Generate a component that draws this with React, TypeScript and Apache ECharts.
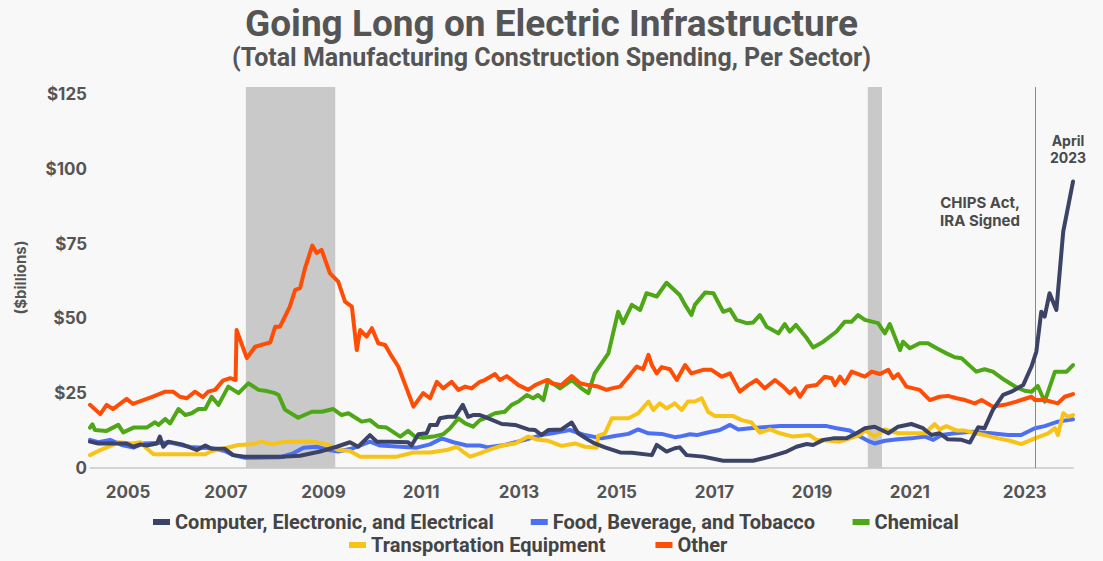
import React, { useEffect, useRef } from "react";
import * as echarts from "echarts";

// x values are positions on the chart's year scale (decimal years), y values in $billions
const seriesNames = [
  "Computer, Electronic, and Electrical",
  "Food, Beverage, and Tobacco",
  "Chemical",
  "Transportation Equipment",
  "Other",
];

const computerData: [number, number][] = [
  [2004.22, 8.8], [2004.39, 8.2], [2004.67, 8.2], [2004.97, 8.2], [2005.11, 7.1], [2005.25, 7.9],
  [2005.38, 7.5], [2005.59, 8.2], [2005.65, 10.5], [2005.72, 7.1], [2005.82, 8.8], [2006.1, 7.9],
  [2006.23, 7.1], [2006.41, 6.0], [2006.58, 7.5], [2006.71, 6.4], [2006.98, 6.4], [2007.15, 4.3],
  [2007.39, 3.8], [2008.21, 3.8], [2008.52, 4.1], [2008.93, 5.5], [2009.27, 7.1], [2009.54, 8.6],
  [2009.71, 7.1], [2009.95, 11.0], [2010.09, 8.8], [2010.36, 8.8], [2010.73, 8.6], [2010.8, 7.5],
  [2010.94, 11.3], [2011.11, 11.6], [2011.18, 14.4], [2011.32, 14.4], [2011.38, 16.6], [2011.55, 17.1],
  [2011.69, 17.1], [2011.85, 21.1], [2011.96, 17.1], [2012.06, 17.7], [2012.2, 17.7], [2012.3, 17.1],
  [2012.65, 14.7], [2012.92, 14.4], [2013.19, 12.9], [2013.33, 12.7], [2013.46, 11.0], [2013.6, 12.7],
  [2013.87, 12.9], [2014.08, 15.2], [2014.21, 11.6], [2014.42, 9.4], [2014.55, 8.2], [2014.76, 6.9],
  [2015.07, 5.2], [2015.31, 5.1], [2015.72, 4.3], [2015.82, 7.7], [2016.02, 5.5], [2016.19, 6.6],
  [2016.29, 6.9], [2016.43, 4.3], [2016.77, 3.8], [2017.18, 2.4], [2017.79, 2.4], [2018.14, 3.8],
  [2018.48, 5.5], [2018.68, 7.1], [2018.89, 8.0], [2019.02, 7.7], [2019.23, 9.4], [2019.43, 9.9],
  [2019.7, 9.9], [2019.91, 11.6], [2020.08, 13.3], [2020.28, 13.8], [2020.56, 11.6], [2020.76, 13.8],
  [2021.03, 14.7], [2021.27, 13.3], [2021.44, 11.0], [2021.61, 11.6], [2021.78, 9.6], [2022.06, 9.4],
  [2022.23, 8.5], [2022.4, 13.6], [2022.53, 13.3], [2022.7, 19.4], [2022.91, 24.4], [2023.08, 25.5],
  [2023.32, 27.7], [2023.49, 33.9], [2023.59, 38.9], [2023.69, 52.2], [2023.76, 50.6], [2023.86, 58.4],
  [2024.0, 52.8], [2024.14, 79.0], [2024.34, 95.7],
];

const foodData: [number, number][] = [
  [2004.22, 9.4], [2004.39, 8.6], [2004.63, 9.4], [2004.87, 7.7], [2005.11, 6.8], [2005.31, 8.2],
  [2005.86, 8.5], [2006.27, 7.0], [2006.71, 6.6], [2006.98, 5.7], [2007.15, 4.3], [2007.39, 3.4],
  [2008.11, 3.6], [2008.38, 4.9], [2008.59, 6.8], [2008.86, 7.1], [2009.1, 6.0], [2009.3, 5.5],
  [2009.61, 6.6], [2009.95, 8.8], [2010.16, 7.5], [2010.57, 7.1], [2010.91, 6.8], [2011.18, 7.9],
  [2011.42, 9.9], [2011.66, 8.6], [2011.93, 7.5], [2012.2, 7.5], [2012.37, 6.9], [2012.71, 7.7],
  [2013.12, 9.4], [2013.46, 11.0], [2013.74, 11.8], [2014.04, 12.7], [2014.35, 11.0], [2014.69, 9.9],
  [2014.96, 10.7], [2015.24, 11.4], [2015.44, 12.9], [2015.65, 11.6], [2015.92, 11.4], [2016.19, 10.3],
  [2016.29, 10.5], [2016.5, 11.3], [2016.64, 11.0], [2016.84, 11.8], [2017.11, 12.7], [2017.32, 14.4],
  [2017.49, 12.9], [2017.73, 13.3], [2018.0, 13.6], [2018.34, 14.0], [2019.3, 14.0], [2019.5, 13.3],
  [2019.77, 12.5], [2019.98, 10.5], [2020.18, 8.8], [2020.28, 8.2], [2020.49, 9.1], [2020.76, 9.6],
  [2021.03, 9.9], [2021.31, 10.5], [2021.48, 9.4], [2021.65, 11.0], [2021.92, 11.6], [2022.26, 12.1],
  [2022.67, 11.6], [2023.01, 11.0], [2023.28, 11.0], [2023.56, 13.3], [2023.76, 14.0], [2024.03, 15.5],
  [2024.34, 16.3],
];

const chemicalData: [number, number][] = [
  [2004.22, 13.5], [2004.27, 14.6], [2004.32, 12.7], [2004.56, 12.4], [2004.8, 14.4], [2004.9, 11.9],
  [2005.11, 13.5], [2005.38, 13.5], [2005.55, 15.3], [2005.62, 14.4], [2005.76, 16.4], [2005.86, 14.9],
  [2006.03, 19.7], [2006.17, 17.7], [2006.3, 18.3], [2006.44, 19.7], [2006.58, 19.7], [2006.71, 23.8],
  [2006.85, 21.1], [2007.05, 27.2], [2007.26, 25.0], [2007.46, 28.3], [2007.67, 26.1], [2007.84, 25.7],
  [2008.01, 25.0], [2008.08, 24.4], [2008.21, 19.5], [2008.48, 16.8], [2008.76, 18.8], [2008.96, 18.8],
  [2009.2, 19.7], [2009.37, 17.7], [2009.51, 18.3], [2009.78, 15.5], [2009.95, 16.0], [2010.12, 13.8],
  [2010.29, 13.5], [2010.57, 10.5], [2010.73, 12.4], [2010.87, 10.5], [2011.04, 10.1], [2011.25, 10.5],
  [2011.45, 11.3], [2011.59, 13.3], [2011.76, 16.6], [2011.9, 14.9], [2012.06, 13.8], [2012.2, 16.0],
  [2012.3, 16.6], [2012.51, 18.3], [2012.71, 18.8], [2012.85, 21.1], [2012.99, 22.2], [2013.16, 24.4],
  [2013.29, 23.3], [2013.39, 24.4], [2013.5, 22.7], [2013.6, 29.4], [2013.84, 26.6], [2014.08, 29.4],
  [2014.28, 26.6], [2014.42, 25.0], [2014.55, 31.6], [2014.83, 38.3], [2015.03, 52.2], [2015.13, 48.4],
  [2015.31, 54.5], [2015.48, 52.8], [2015.61, 58.4], [2015.82, 57.3], [2016.02, 61.9], [2016.29, 57.8],
  [2016.4, 54.5], [2016.53, 51.1], [2016.6, 54.5], [2016.81, 58.6], [2016.98, 58.4], [2017.18, 52.2],
  [2017.32, 53.0], [2017.45, 49.5], [2017.66, 48.4], [2017.79, 48.6], [2017.93, 51.1], [2018.07, 47.2],
  [2018.31, 45.0], [2018.44, 48.1], [2018.54, 45.6], [2018.67, 47.8], [2018.89, 43.4], [2019.02, 40.3],
  [2019.23, 42.2], [2019.5, 45.6], [2019.67, 48.9], [2019.81, 48.9], [2019.94, 51.1], [2020.08, 49.5],
  [2020.35, 48.4], [2020.49, 45.0], [2020.59, 48.1], [2020.8, 39.4], [2020.86, 42.2], [2021.0, 40.0],
  [2021.2, 41.7], [2021.37, 41.7], [2021.55, 40.0], [2021.75, 38.3], [2021.92, 37.0], [2022.06, 36.7],
  [2022.36, 32.2], [2022.53, 33.0], [2022.7, 32.2], [2022.94, 29.4], [2023.18, 27.0], [2023.35, 25.8],
  [2023.49, 25.5], [2023.62, 27.4], [2023.76, 22.2], [2023.97, 32.2], [2024.21, 32.2], [2024.34, 34.4],
];

const transportationData: [number, number][] = [
  [2004.22, 4.3], [2004.39, 5.7], [2004.6, 7.1], [2004.8, 8.6], [2005.08, 8.2], [2005.25, 8.6],
  [2005.38, 6.6], [2005.52, 4.6], [2006.58, 4.6], [2006.71, 5.7], [2006.98, 6.6], [2007.26, 7.7],
  [2007.53, 7.9], [2007.74, 8.8], [2007.94, 7.9], [2008.21, 8.8], [2008.79, 8.8], [2009.07, 7.9],
  [2009.3, 6.0], [2009.54, 5.7], [2009.75, 3.8], [2010.5, 3.8], [2010.84, 5.2], [2011.18, 5.2],
  [2011.52, 6.0], [2011.73, 7.1], [2011.85, 5.5], [2012.0, 3.8], [2012.2, 4.9], [2012.37, 6.0],
  [2012.65, 7.5], [2012.92, 8.2], [2013.19, 10.5], [2013.39, 9.4], [2013.6, 9.1], [2013.87, 7.4],
  [2014.15, 8.2], [2014.35, 7.1], [2014.59, 6.8], [2014.62, 10.7], [2014.76, 11.6], [2014.9, 16.6],
  [2015.24, 16.6], [2015.44, 18.3], [2015.65, 22.2], [2015.75, 19.4], [2015.88, 21.6], [2016.02, 19.9],
  [2016.19, 21.6], [2016.33, 19.4], [2016.46, 22.2], [2016.6, 22.2], [2016.74, 23.3], [2016.87, 18.8],
  [2017.01, 17.4], [2017.38, 17.4], [2017.56, 16.0], [2017.76, 15.2], [2017.93, 11.8], [2018.14, 12.9],
  [2018.34, 11.6], [2018.61, 10.5], [2018.95, 11.0], [2019.09, 9.4], [2019.36, 9.1], [2019.57, 8.8],
  [2019.77, 9.9], [2019.98, 11.0], [2020.08, 12.7], [2020.28, 10.5], [2020.49, 12.9], [2020.76, 11.6],
  [2021.31, 11.6], [2021.51, 14.7], [2021.61, 12.9], [2021.75, 14.0], [2021.96, 12.5], [2022.13, 12.5],
  [2022.33, 11.6], [2022.53, 11.0], [2022.81, 9.9], [2023.05, 9.1], [2023.28, 8.0], [2023.56, 9.9],
  [2023.83, 11.6], [2023.97, 13.3], [2024.03, 11.0], [2024.14, 18.3], [2024.24, 17.1], [2024.34, 17.7],
];

const otherData: [number, number][] = [
  [2004.22, 21.1], [2004.43, 18.0], [2004.56, 21.1], [2004.69, 19.7], [2004.97, 23.1], [2005.1, 21.4],
  [2005.48, 23.7], [2005.76, 25.5], [2005.92, 25.5], [2006.06, 23.8], [2006.2, 23.3], [2006.37, 25.5],
  [2006.53, 23.7], [2006.64, 25.5], [2006.78, 26.1], [2006.94, 29.2], [2007.09, 30.0], [2007.2, 29.4],
  [2007.22, 46.1], [2007.43, 36.7], [2007.6, 40.5], [2007.91, 42.0], [2008.01, 47.2], [2008.11, 47.2],
  [2008.31, 53.9], [2008.42, 59.5], [2008.52, 60.1], [2008.62, 66.7], [2008.77, 74.3], [2008.86, 71.8],
  [2008.96, 72.9], [2009.13, 65.1], [2009.3, 62.3], [2009.44, 55.6], [2009.58, 53.9], [2009.68, 39.4],
  [2009.75, 46.1], [2009.88, 43.9], [2009.99, 46.7], [2010.12, 41.7], [2010.26, 41.1], [2010.4, 37.2],
  [2010.53, 33.9], [2010.7, 26.6], [2010.84, 20.5], [2011.04, 25.0], [2011.18, 23.3], [2011.32, 28.8],
  [2011.45, 26.6], [2011.62, 28.8], [2011.76, 26.1], [2011.9, 27.2], [2012.03, 26.6], [2012.2, 28.8],
  [2012.3, 29.4], [2012.51, 31.4], [2012.61, 29.4], [2012.75, 30.7], [2012.99, 27.7], [2013.19, 26.1],
  [2013.33, 27.7], [2013.57, 29.4], [2013.67, 28.3], [2013.87, 27.7], [2014.08, 30.7], [2014.25, 28.3],
  [2014.42, 27.7], [2014.62, 27.2], [2014.79, 26.1], [2014.9, 26.6], [2015.07, 27.2], [2015.24, 30.5],
  [2015.41, 33.9], [2015.54, 33.0], [2015.65, 37.8], [2015.72, 34.4], [2015.82, 31.6], [2015.92, 33.7],
  [2016.09, 33.0], [2016.23, 29.4], [2016.4, 34.4], [2016.53, 31.6], [2016.77, 32.8], [2016.94, 32.8],
  [2017.15, 30.5], [2017.32, 31.6], [2017.52, 25.5], [2017.69, 27.7], [2017.86, 29.4], [2018.03, 26.6],
  [2018.24, 29.4], [2018.41, 27.2], [2018.54, 25.0], [2018.65, 26.6], [2018.75, 23.8], [2018.89, 27.2],
  [2019.09, 27.7], [2019.26, 30.5], [2019.4, 30.0], [2019.47, 27.7], [2019.57, 30.5], [2019.67, 28.3],
  [2019.81, 32.2], [2020.08, 30.5], [2020.22, 32.2], [2020.39, 31.4], [2020.56, 32.8], [2020.66, 30.0],
  [2020.76, 31.4], [2020.93, 27.2], [2021.2, 26.1], [2021.41, 22.7], [2021.61, 23.8], [2021.78, 24.1],
  [2021.96, 23.3], [2022.13, 22.7], [2022.33, 21.6], [2022.47, 22.7], [2022.7, 20.5], [2022.94, 21.1],
  [2023.18, 22.2], [2023.49, 23.8], [2023.56, 22.7], [2023.76, 22.7], [2024.03, 21.6], [2024.17, 23.8],
  [2024.34, 24.7],
];

const xLabelValues = [2005, 2007, 2009, 2011, 2013, 2015, 2017, 2019, 2021, 2023.35];
const recessionBands: [number, number][] = [[2007.41, 2009.24], [2020.14, 2020.43]];
const chipsActX = 2023.56;

const colors = ["#3c4366", "#4d70f3", "#4ea716", "#f8c317", "#ff4d06"];

export default function App() {
  const ref = useRef<HTMLDivElement>(null);
  useEffect(() => {
    document.body.style.margin = "0";
    if (!ref.current) return;
    const chart = echarts.init(ref.current, null, { renderer: "svg" });
    const narrow = 'Roboto, Inter, sans-serif';
    const font = 'Inter, "Noto Sans", sans-serif';
    const seriesData = [computerData, foodData, chemicalData, transportationData, otherData];
    const drawOrder = [1, 3, 2, 4, 0];
    const legendText = { color: "#444", fontSize: 20, fontWeight: "bold" as const, fontFamily: narrow };
    chart.setOption({
      animation: false,
      backgroundColor: "#f8f8f8",
      title: [
        {
          text: "Going Long on Electric Infrastructure",
          left: "center",
          top: 4,
          padding: 0,
          textStyle: { color: "#555", fontSize: 37, lineHeight: 38, fontWeight: "bold", fontFamily: narrow },
        },
        {
          text: "(Total Manufacturing Construction Spending, Per Sector)",
          left: "center",
          top: 44,
          padding: 0,
          textStyle: { color: "#555", fontSize: 25, lineHeight: 27, fontWeight: "bold", fontFamily: narrow },
        },
      ],
      legend: [
        {
          data: seriesNames.slice(0, 3),
          top: 512,
          left: 153,
          padding: 0,
          icon: "rect",
          itemWidth: 17,
          itemHeight: 6,
          itemGap: 37,
          textStyle: legendText,
        },
        {
          data: seriesNames.slice(3),
          top: 535,
          left: 349,
          padding: 0,
          icon: "rect",
          itemWidth: 17,
          itemHeight: 6,
          itemGap: 50,
          textStyle: legendText,
        },
      ],
      grid: { left: 90, right: 30, top: 87, bottom: 93 },
      xAxis: {
        type: "value",
        min: 2004.22,
        max: 2024.34,
        splitLine: { show: false },
        axisTick: { show: false },
        axisLine: { show: true, lineStyle: { color: "#c8c8c8", width: 1.5 } },
        axisLabel: {
          customValues: xLabelValues,
          formatter: (v: number) => String(Math.round(v)),
          color: "#555",
          fontSize: 17,
          fontWeight: "bold",
          fontFamily: font,
          margin: 15,
        },
      },
      yAxis: {
        type: "value",
        min: 0,
        max: 127.3,
        interval: 25,
        name: "($billions)",
        nameLocation: "middle",
        nameGap: 62,
        nameTextStyle: { color: "#555", fontSize: 15, fontWeight: "bold", fontFamily: font },
        splitLine: { show: false },
        axisLine: { show: false },
        axisTick: { show: false },
        axisLabel: {
          showMaxLabel: false,
          formatter: (v: number) => (v === 0 ? "0" : "$" + v),
          color: "#555",
          fontSize: 17,
          fontWeight: "bold",
          fontFamily: font,
          margin: 3,
        },
      },
      graphic: [
        {
          type: "text",
          style: {
            x: 1020,
            y: 211,
            text: "CHIPS Act,\nIRA Signed",
            align: "right",
            verticalAlign: "middle",
            lineHeight: 18,
            font: 'bold 15px Inter, "Noto Sans", sans-serif',
            fill: "#4a4a4a",
          },
        },
        {
          type: "text",
          style: {
            x: 1068,
            y: 149,
            text: "April\n2023",
            align: "center",
            verticalAlign: "middle",
            lineHeight: 17,
            font: 'bold 14px Inter, "Noto Sans", sans-serif',
            fill: "#4a4a4a",
          },
        },
      ],
      series: drawOrder.map((i, k) => ({
        name: seriesNames[i],
        type: "line",
        data: seriesData[i],
        showSymbol: false,
        symbol: "none",
        color: colors[i],
        lineStyle: { width: 4, color: colors[i], join: "round", cap: "round" },
        z: 3 + k,
        ...(k === 0
          ? {
              markArea: {
                silent: true,
                itemStyle: { color: "#c9c9c9" },
                data: recessionBands.map(([a, b]) => [{ xAxis: a, yAxis: 0 }, { xAxis: b, yAxis: 127.3 }]),
              },
              markLine: {
                silent: true,
                symbol: "none",
                label: { show: false },
                lineStyle: { color: "#8a8a8a", width: 1, type: "solid" },
                data: [{ xAxis: chipsActX }],
              },
            }
          : {}),
      })),
    });
    return () => chart.dispose();
  }, []);
  return <div ref={ref} style={{ width: 1103, height: 561 }} />;
}
